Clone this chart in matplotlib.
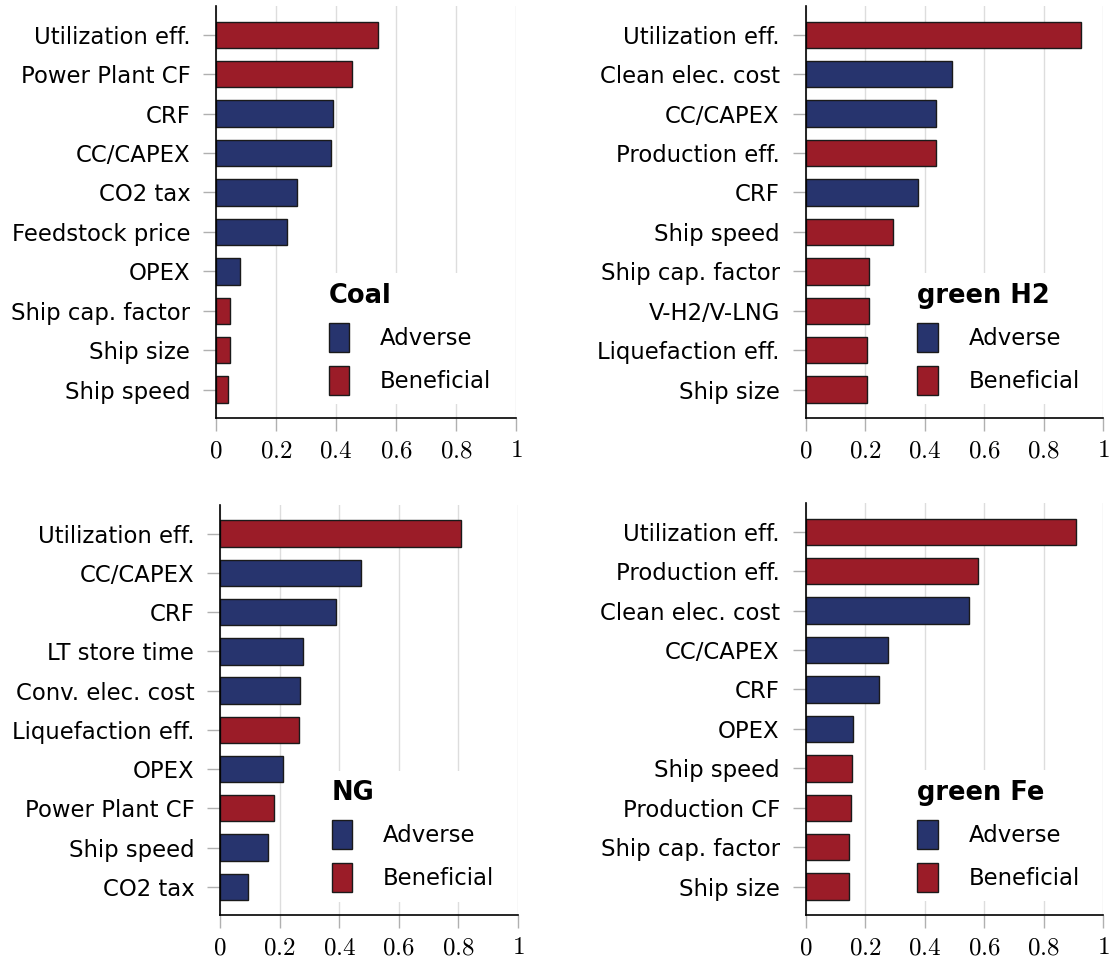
import numpy as np
import matplotlib
matplotlib.use('Agg')
import matplotlib.pyplot as plt
from matplotlib.patches import Patch
from matplotlib.ticker import FuncFormatter

plt.rcParams['font.family'] = ['DejaVu Sans']
plt.rcParams['mathtext.fontset'] = 'cm'

RED = '#9b1c28'
BLUE = '#27346e'

# sensitivity of cost to each parameter, sorted by magnitude
coal_labels = ['Utilization eff.', 'Power Plant CF', 'CRF', 'CC/CAPEX', 'CO2 tax',
               'Feedstock price', 'OPEX', 'Ship cap. factor', 'Ship size', 'Ship speed']
coal_values = [0.540, 0.453, 0.390, 0.383, 0.269, 0.235, 0.080, 0.045, 0.045, 0.040]
coal_effect = ['B', 'B', 'A', 'A', 'A', 'A', 'A', 'B', 'B', 'B']

h2_labels = ['Utilization eff.', 'Clean elec. cost', 'CC/CAPEX', 'Production eff.', 'CRF',
             'Ship speed', 'Ship cap. factor', 'V-H2/V-LNG', 'Liquefaction eff.', 'Ship size']
h2_values = [0.924, 0.491, 0.439, 0.437, 0.377, 0.295, 0.212, 0.212, 0.208, 0.208]
h2_effect = ['B', 'A', 'A', 'B', 'A', 'B', 'B', 'B', 'B', 'B']

ng_labels = ['Utilization eff.', 'CC/CAPEX', 'CRF', 'LT store time', 'Conv. elec. cost',
             'Liquefaction eff.', 'OPEX', 'Power Plant CF', 'Ship speed', 'CO2 tax']
ng_values = [0.810, 0.474, 0.389, 0.279, 0.267, 0.265, 0.210, 0.181, 0.160, 0.093]
ng_effect = ['B', 'A', 'A', 'A', 'A', 'B', 'A', 'B', 'A', 'A']

fe_labels = ['Utilization eff.', 'Production eff.', 'Clean elec. cost', 'CC/CAPEX', 'CRF',
             'OPEX', 'Ship speed', 'Production CF', 'Ship cap. factor', 'Ship size']
fe_values = [0.909, 0.581, 0.549, 0.277, 0.248, 0.161, 0.157, 0.153, 0.145, 0.145]
fe_effect = ['B', 'B', 'A', 'A', 'A', 'A', 'B', 'B', 'B', 'B']

x_ticks = [0, 0.2, 0.4, 0.6, 0.8, 1]

PANELS = [
    ('Coal', coal_labels, coal_values, coal_effect, [0.1946, 0.5659, 0.2703, 0.4279]),
    ('green H2', h2_labels, h2_values, h2_effect, [0.7257, 0.5659, 0.2681, 0.4279]),
    ('NG', ng_labels, ng_values, ng_effect, [0.1982, 0.0498, 0.2685, 0.4258]),
    ('green Fe', fe_labels, fe_values, fe_effect, [0.7257, 0.0498, 0.2681, 0.4279]),
]


def plot_tornado(ax, title, labels, values, effect):
    pos = np.arange(len(labels))
    colors = [RED if e == 'B' else BLUE for e in effect]
    ax.barh(pos, values, height=0.67, color=colors, edgecolor='#1a1a1a',
            linewidth=1.0, zorder=3)
    ax.set_yticks(pos)
    ax.set_yticklabels(labels, fontsize=16.4)
    ax.set_ylim(len(labels) - 0.28, -0.73)
    ax.set_xlim(0, 1)
    ax.set_xticks(x_ticks)
    ax.xaxis.set_major_formatter(FuncFormatter(lambda v, p: f'${v:g}$'))
    ax.tick_params(axis='x', labelsize=18, length=9.5, width=1.0, color='#b0b0b0', pad=5)
    ax.tick_params(axis='y', length=9.5, width=1.0, color='#b0b0b0', pad=9)
    ax.grid(axis='x', color='#dddddd', linewidth=1.0, zorder=0)
    ax.set_axisbelow(True)
    for s in ('top', 'right'):
        ax.spines[s].set_visible(False)
    for s in ('left', 'bottom'):
        ax.spines[s].set_linewidth(1.2)
        ax.spines[s].set_zorder(4)

    handles = [Patch(facecolor=BLUE, edgecolor='#1a1a1a', label='Adverse'),
               Patch(facecolor=RED, edgecolor='#1a1a1a', label='Beneficial')]
    leg = ax.legend(handles=handles, title=title, loc='lower left',
                    bbox_to_anchor=(0.345, 0.033), borderaxespad=0,
                    fontsize=16.4, title_fontproperties={'weight': 'bold', 'size': 18.5},
                    handlelength=0.9, handleheight=1.6, handletextpad=1.35,
                    labelspacing=0.62, frameon=True, fancybox=False,
                    framealpha=1, edgecolor='none', alignment='left')
    leg.set_zorder(5)


fig = plt.figure(figsize=(11.10, 9.63), dpi=100)
for title, labels, values, effect, rect in PANELS:
    ax = fig.add_axes(rect)
    plot_tornado(ax, title, labels, values, effect)

fig.savefig('out.png', dpi=100)
